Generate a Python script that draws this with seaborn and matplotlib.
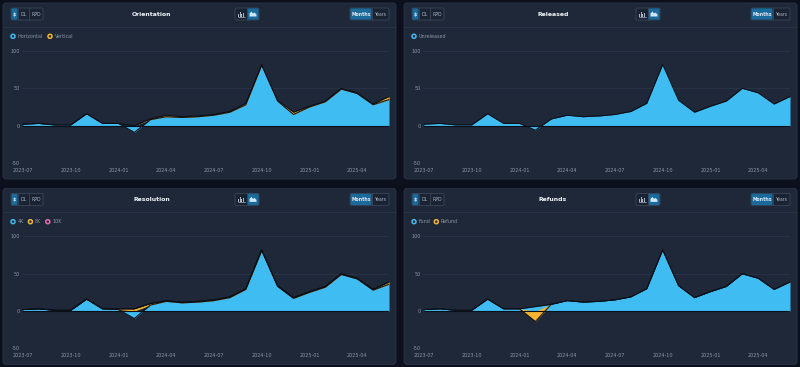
import numpy as np
import pandas as pd
import matplotlib
matplotlib.use("Agg")
import matplotlib.pyplot as plt
from matplotlib.patches import FancyBboxPatch, Circle, Rectangle, Polygon
import seaborn as sns

# ---------------- data ----------------
months = ["2023-07", "2023-08", "2023-09", "2023-10", "2023-11", "2023-12",
          "2024-01", "2024-02", "2024-03", "2024-04", "2024-05", "2024-06",
          "2024-07", "2024-08", "2024-09", "2024-10", "2024-11", "2024-12",
          "2025-01", "2025-02", "2025-03", "2025-04", "2025-05", "2025-06"]

horizontal = [2, 3, 1, 1, 16, 3, 3, -9, 8, 12, 11, 12, 14, 18, 28, 81, 33, 15, 25, 32, 49, 43, 28, 35]
vertical = [0, 0, 0, 0, 0, 0, 0, 0, 1, 2, 1, 1, 1, 1, 2, 1, 1, 3, 1, 1, 1, 1, 1, 4]

unreleased = [2, 3, 1, 1, 16, 3, 3, -6, 9, 14, 12, 13, 15, 19, 30, 82, 34, 18, 26, 33, 50, 44, 29, 39]

res_4k = [2, 3, 1, 1, 16, 3, 2, -10, 8, 13, 11, 12, 14, 18, 29, 81, 33, 17, 25, 32, 49, 43, 28, 36]
res_8k = [0, 0, 0, 0, 0, 0, 1, 3, 2, 1, 1, 1, 1, 1, 1, 1, 1, 1, 1, 1, 1, 1, 1, 3]
res_10k = [0] * 24

fund = [2, 3, 1, 1, 16, 3, 3, 6, 9, 14, 12, 13, 15, 19, 30, 82, 34, 18, 26, 33, 50, 44, 29, 39]
refund = [0, 0, 0, 0, 0, 0, 0, -14, 0, 0, 0, 0, 0, 0, 0, 0, 0, 0, 0, 0, 0, 0, 0, 0]

y_ticks = [-50, 0, 50, 100]

BLUE = "#3fbdf3"
YELLOW = "#f5b533"
PINK = "#e26bb2"

panels = [
    ("Orientation", [("Horizontal", horizontal, BLUE), ("Vertical", vertical, YELLOW)], 0, 0),
    ("Released", [("Unreleased", unreleased, BLUE)], 401, 0),
    ("Resolution", [("4K", res_4k, BLUE), ("8K", res_8k, YELLOW), ("10K", res_10k, PINK)], 0, 185.4),
    ("Refunds", [("Fund", fund, BLUE), ("Refund", refund, YELLOW)], 401, 185.4),
]

# ---------------- style ----------------
W, H = 800, 367
PAGE = "#0b101c"
CARD = "#1e2838"
CARD_EDGE = "#2a3547"
GRID = "#2c394c"
TXT = "#8c96a8"
ACTIVE = "#1b6a9c"
BTN = "#1a2332"
OUTLINE = "#0b0f17"

sns.set_theme(style="dark")
plt.rcParams["font.family"] = ["DejaVu Sans"]

fig = plt.figure(figsize=(W / 100, H / 100), dpi=100)
fig.patch.set_facecolor(PAGE)

bg = fig.add_axes([0, 0, 1, 1])
bg.set_xlim(0, W)
bg.set_ylim(H, 0)
bg.axis("off")
bg.set_facecolor(PAGE)


def btn_group(x0, y0, widths, labels, active_idx, ox, oy, h=12):
    total = sum(widths)
    bg.add_patch(FancyBboxPatch((x0 + ox, y0 + oy), total, h,
                                boxstyle="round,pad=0,rounding_size=1.5",
                                fc=BTN, ec="#3a4658", lw=0.6, zorder=2))
    x = x0 + ox
    for i, (w, lab) in enumerate(zip(widths, labels)):
        if i == active_idx:
            bg.add_patch(FancyBboxPatch((x + 0.4, y0 + oy + 0.4), w - 0.8, h - 0.8,
                                        boxstyle="round,pad=0,rounding_size=1.2",
                                        fc=ACTIVE, ec="none", zorder=3))
        if i > 0:
            bg.plot([x, x], [y0 + oy, y0 + oy + h], color="#3a4658", lw=0.6, zorder=4)
        if lab is not None:
            bg.text(x + w / 2, y0 + oy + h / 2 + 0.3, lab, ha="center", va="center",
                    fontsize=3.3, color="#dfe6ef" if i == active_idx else "#aab3c2",
                    fontweight="bold" if i == active_idx else "normal", zorder=5)
        x += w
    return x0 + ox


for title, series, ox, oy in panels:
    # card
    bg.add_patch(FancyBboxPatch((3 + ox, 3 + oy), 393, 176,
                                boxstyle="round,pad=0,rounding_size=3",
                                fc=CARD, ec=CARD_EDGE, lw=0.6, zorder=1))
    bg.plot([3 + ox, 396 + ox], [27 + oy, 27 + oy], color="#2b3648", lw=0.6, zorder=2)

    # header buttons
    btn_group(11, 8, [7, 11, 14], ["$", "DL", "RPD"], 0, ox, oy)
    btn_group(235, 8, [12, 12], [None, None], 1, ox, oy)
    # chart icons
    ix = 241 + ox
    iy = 14 + oy
    for dx, hh in [(-2.5, 3), (-1, 4.5), (0.5, 2.5), (2, 4)]:
        bg.add_patch(Rectangle((ix + dx - 0.5, iy + 2.5 - hh), 1.0, hh, fc="#aab3c2", ec="none", zorder=5))
    bg.plot([ix - 3.5, ix + 3.5], [iy + 2.6, iy + 2.6], color="#aab3c2", lw=0.5, zorder=5)
    ix2 = 253 + ox
    bg.add_patch(Polygon([[ix2 - 3.5, iy + 2.5], [ix2 - 3.5, iy - 0.5], [ix2 - 1.5, iy - 2.5],
                          [ix2, iy - 0.5], [ix2 + 1.5, iy - 1.5], [ix2 + 3.5, iy + 0.5],
                          [ix2 + 3.5, iy + 2.5]], closed=True, fc="#cfe6f5", ec="none", zorder=5))
    btn_group(350, 8, [22, 17], ["Months", "Years"], 0, ox, oy)

    bg.text(152 + ox, 14.5 + oy, title, ha="center", va="center", fontsize=4.4,
            fontweight="bold", color="#f2f5f9", zorder=5)

    # legend
    lx = 13 + ox
    for name, vals, col in series:
        bg.add_patch(Circle((lx, 36.3 + oy), 2.0, fc=CARD, ec=col, lw=1.1, zorder=5))
        bg.text(lx + 4.5, 36.5 + oy, name, ha="left", va="center", fontsize=3.5,
                color=TXT, zorder=5)
        lx += 4.5 + len(name) * 2.45 + 8

    # plot axes
    left = (22 + ox) / W
    right = (389 + ox) / W
    top = 1 - (51 + oy) / H
    bottom = 1 - (163 + oy) / H
    ax = fig.add_axes([left, bottom, right - left, top - bottom])
    ax.set_facecolor("none")
    for s in ax.spines.values():
        s.set_visible(False)

    x = np.arange(len(months))
    pos_base = np.zeros(len(months))
    neg_base = np.zeros(len(months))
    for name, vals, col in series:
        v = np.asarray(vals, dtype=float)
        base = np.where(v >= 0, pos_base, neg_base)
        topv = base + v
        ax.fill_between(x, base, topv, color=col, lw=0, zorder=3)
        df = pd.DataFrame({"x": x, "y": topv})
        sns.lineplot(data=df, x="x", y="y", ax=ax, color=OUTLINE, lw=0.75, zorder=4)
        pos_base = np.where(v >= 0, topv, pos_base)
        neg_base = np.where(v < 0, topv, neg_base)

    ax.axhline(0, color=OUTLINE, lw=0.8, zorder=4, xmin=0.003, xmax=0.997)
    ax.plot([x[-1], x[-1]], [0, pos_base[-1]], color=OUTLINE, lw=0.7, zorder=4)
    for yv in [100, 50, -50]:
        ax.axhline(yv, color=GRID, lw=0.5, zorder=1)

    ax.set_xlim(-0.06, 23.0)
    ax.set_ylim(-50, 100)
    ax.set_yticks(y_ticks)
    ax.set_yticklabels([str(t) for t in y_ticks])
    ax.set_xticks(x[::3])
    ax.set_xticklabels([months[i] for i in x[::3]])
    ax.tick_params(axis="both", length=0, labelsize=3.5, colors=TXT)
    ax.tick_params(axis="y", pad=1.6)
    ax.tick_params(axis="x", pad=3.3)
    ax.set_xlabel("")
    ax.set_ylabel("")
    ax.grid(False)

fig.savefig("out.png", dpi=100, facecolor=PAGE)
